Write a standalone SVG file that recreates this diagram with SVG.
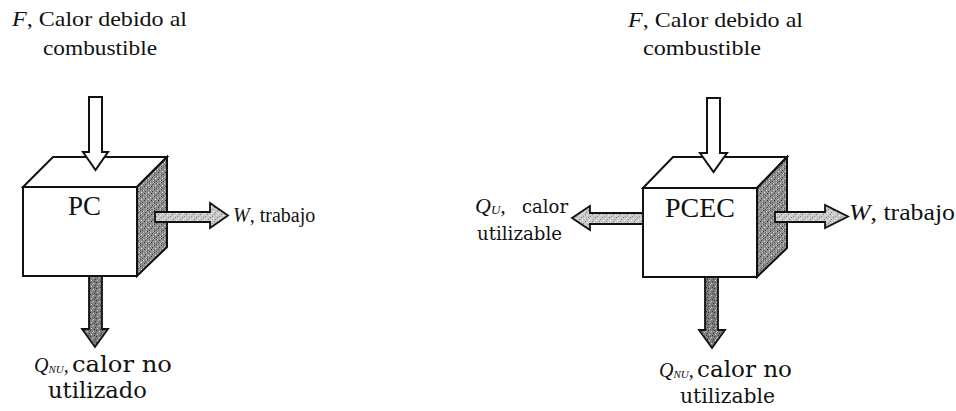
<svg xmlns="http://www.w3.org/2000/svg" width="956" height="411" viewBox="0 0 956 411">
  <defs>
    <style>
      .edge { stroke: #111; stroke-width: 2; stroke-linejoin: miter; }
      .face { fill: #fff; }
      .flow-in { fill: #fff; stroke: #111; stroke-width: 2; }
      .flow { stroke: #111; stroke-width: 1.8; }
      .serif { font-family: "Liberation Serif", "Times New Roman", serif; fill: #111; }
      .label { font-family: "DejaVu Serif", "Liberation Serif", serif; fill: #111; }
      .it { font-style: italic; }
    </style>
    <!-- stippled grey textures -->
    <pattern id="grainDark" width="7" height="7" patternUnits="userSpaceOnUse">
      <rect width="7" height="7" fill="#8f8f8f"/>
      <rect x="0" y="0" width="1" height="1" fill="#3a3a3a"/>
      <rect x="3" y="1" width="1" height="1" fill="#d8d8d8"/>
      <rect x="5" y="2" width="1" height="1" fill="#444"/>
      <rect x="1" y="3" width="1" height="1" fill="#e0e0e0"/>
      <rect x="4" y="4" width="1" height="1" fill="#333"/>
      <rect x="6" y="5" width="1" height="1" fill="#cfcfcf"/>
      <rect x="2" y="6" width="1" height="1" fill="#505050"/>
      <rect x="2" y="1" width="1" height="1" fill="#606060"/>
      <rect x="6" y="0" width="1" height="1" fill="#bdbdbd"/>
      <rect x="0" y="5" width="1" height="1" fill="#4a4a4a"/>
    </pattern>
    <pattern id="grainLight" width="7" height="7" patternUnits="userSpaceOnUse">
      <rect width="7" height="7" fill="#c9c9c9"/>
      <rect x="0" y="0" width="1" height="1" fill="#777"/>
      <rect x="3" y="1" width="1" height="1" fill="#f2f2f2"/>
      <rect x="5" y="2" width="1" height="1" fill="#888"/>
      <rect x="1" y="3" width="1" height="1" fill="#fff"/>
      <rect x="4" y="4" width="1" height="1" fill="#7a7a7a"/>
      <rect x="6" y="5" width="1" height="1" fill="#eee"/>
      <rect x="2" y="6" width="1" height="1" fill="#8a8a8a"/>
    </pattern>
    <pattern id="grainMid" width="6" height="6" patternUnits="userSpaceOnUse">
      <rect width="6" height="6" fill="#7d7d7d"/>
      <rect x="0" y="0" width="1" height="1" fill="#2e2e2e"/>
      <rect x="3" y="1" width="1" height="1" fill="#cfcfcf"/>
      <rect x="5" y="3" width="1" height="1" fill="#333"/>
      <rect x="1" y="4" width="1" height="1" fill="#d5d5d5"/>
      <rect x="4" y="5" width="1" height="1" fill="#3a3a3a"/>
      <rect x="2" y="2" width="1" height="1" fill="#bbb"/>
    </pattern>
  </defs>

  <rect width="956" height="411" fill="#fff"/>

  <!-- Conventional plant (PC) -->
  <g id="node-pc">
    <polygon class="edge face" points="23,187 53,157 167,157 137,187"/>
    <polygon class="edge" fill="url(#grainDark)" points="137,187 167,157 167,247 137,276"/>
    <rect class="edge face" x="23" y="187" width="114" height="89"/>
    <text class="serif" x="68" y="215" font-size="27" textLength="33" lengthAdjust="spacingAndGlyphs">PC</text>
  </g>

  <!-- Cogeneration plant (PCEC) -->
  <g id="node-pcec">
    <polygon class="edge face" points="643,188 673,157 787,157 757,188"/>
    <polygon class="edge" fill="url(#grainDark)" points="757,188 787,157 787,248 757,277"/>
    <rect class="edge face" x="643" y="188" width="114" height="89"/>
    <text class="serif" x="665" y="217" font-size="28" textLength="70" lengthAdjust="spacingAndGlyphs">PCEC</text>
  </g>

  <!-- Energy flows -->
  <g id="connectors">
    <!-- PC: fuel in, work out, unused heat out -->
    <polygon class="flow-in" points="89,97 102,97 102,152 108,152 95.5,170 83,152 89,152"/>
    <polygon class="flow" fill="url(#grainLight)" points="155,212 210,212 210,203 228,215.5 210,228 210,222 155,222"/>
    <polygon class="flow" fill="url(#grainMid)" points="89,276 102,276 102,329 108,329 95,347 82,329 89,329"/>

    <!-- PCEC: fuel in, work out, useful heat out, non-usable heat out -->
    <polygon class="flow-in" points="707,98 720,98 720,153 727,153 713.5,172 700,153 707,153"/>
    <polygon class="flow" fill="url(#grainLight)" points="775,212 825,212 825,205 848,216.5 825,228 825,222 775,222"/>
    <polygon class="flow" fill="url(#grainLight)" points="643,213 590,213 590,206 572,218 590,230 590,224 643,224"/>
    <polygon class="flow" fill="url(#grainMid)" points="705,277 718,277 718,330 725,330 712,348 699,330 705,330"/>
  </g>

  <!-- Flow labels -->
  <g id="labels">
    <text class="serif" x="12" y="26" font-size="22" textLength="175" lengthAdjust="spacingAndGlyphs"><tspan class="it">F</tspan>, Calor debido al</text>
    <text class="serif" x="43" y="55" font-size="22" textLength="114" lengthAdjust="spacingAndGlyphs">combustible</text>

    <text class="serif" x="233" y="222" font-size="20"><tspan class="it">W</tspan>, trabajo</text>

    <text class="serif it" x="34" y="372" font-size="20">Q<tspan font-size="11" dy="1">NU</tspan><tspan dy="-1">,</tspan></text>
    <text class="label" x="72" y="372" font-size="22" textLength="100" lengthAdjust="spacingAndGlyphs">calor no</text>
    <text class="label" x="48" y="398" font-size="22" textLength="99" lengthAdjust="spacingAndGlyphs">utilizado</text>

    <text class="serif" x="628" y="27" font-size="22" textLength="175" lengthAdjust="spacingAndGlyphs"><tspan class="it">F</tspan>, Calor debido al</text>
    <text class="serif" x="643" y="55" font-size="22" textLength="118" lengthAdjust="spacingAndGlyphs">combustible</text>

    <text class="serif" x="849" y="220" font-size="23" textLength="106" lengthAdjust="spacingAndGlyphs"><tspan class="it">W</tspan>, trabajo</text>

    <text class="serif it" x="475" y="213" font-size="22">Q<tspan font-size="13" dy="1">U</tspan><tspan dy="-1">,</tspan></text>
    <text class="label" x="522" y="213" font-size="18" textLength="46" lengthAdjust="spacingAndGlyphs">calor</text>
    <text class="label" x="477" y="240" font-size="18" textLength="85" lengthAdjust="spacingAndGlyphs">utilizable</text>

    <text class="serif it" x="659" y="377" font-size="20">Q<tspan font-size="11" dy="1">NU</tspan><tspan dy="-1">,</tspan></text>
    <text class="label" x="697" y="377" font-size="22" textLength="95" lengthAdjust="spacingAndGlyphs">calor no</text>
    <text class="label" x="680" y="403" font-size="20" textLength="95" lengthAdjust="spacingAndGlyphs">utilizable</text>
  </g>
</svg>
